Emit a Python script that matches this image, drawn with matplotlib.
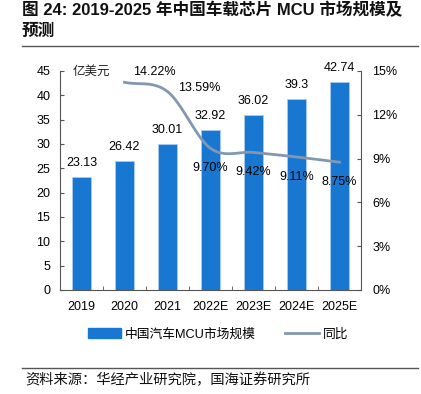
import matplotlib

matplotlib.use("Agg")
import matplotlib.pyplot as plt
import numpy as np
from matplotlib.lines import Line2D
from matplotlib.patches import Patch

plt.rcParams["font.family"] = ["Liberation Sans", "Noto Sans CJK SC", "DejaVu Sans"]

years = ["2019", "2020", "2021", "2022E", "2023E", "2024E", "2025E"]
market = [23.13, 26.42, 30.01, 32.92, 36.02, 39.3, 42.74]
market_labels = ["23.13", "26.42", "30.01", "32.92", "36.02", "39.3", "42.74"]
yoy_years = ["2020", "2021", "2022E", "2023E", "2024E", "2025E"]
yoy = [14.22, 13.59, 9.70, 9.42, 9.11, 8.75]

BAR = "#1877d1"
LINE = "#8497b0"


def smooth(xs, ys, n=30):
    # cubic Hermite curve through the points, for drawing only
    xs = np.asarray(xs, float)
    ys = np.asarray(ys, float)
    m = np.gradient(ys, xs)
    px, py = [], []
    for i in range(len(xs) - 1):
        h = xs[i + 1] - xs[i]
        t = np.linspace(0, 1, n)
        h00 = 2 * t**3 - 3 * t**2 + 1
        h10 = t**3 - 2 * t**2 + t
        h01 = -2 * t**3 + 3 * t**2
        h11 = t**3 - t**2
        px.extend(xs[i] + t * h)
        py.extend(h00 * ys[i] + h10 * h * m[i] + h01 * ys[i + 1] + h11 * h * m[i + 1])
    return px, py


fig = plt.figure(figsize=(4.21, 3.94), dpi=100)
ax = fig.add_axes([0.1425, 0.264, 0.715, 0.556])
ax2 = ax.twinx()

x = np.arange(len(years))
ax.bar(x, market, width=0.46, color=BAR, edgecolor="#a9cdf0", linewidth=0.6, zorder=2)
for xi, v, lab in zip(x, market, market_labels):
    ax.text(xi, v + 2.9, lab, ha="center", va="center", fontsize=9)

ax.set_xlim(-0.5, len(years) - 0.5)
ax.set_ylim(0, 45)
ax.set_yticks(np.arange(0, 46, 5))
ax.set_xticks(x)
ax.set_xticklabels(years, fontsize=9)
ax.set_xticks(np.arange(0.5, len(years) - 0.5, 1), minor=True)
ax.tick_params(axis="x", which="major", length=0, pad=8)
ax.tick_params(axis="x", which="minor", length=3, direction="in", color="#555555")
ax.tick_params(axis="y", labelsize=9, length=3, direction="in", color="#555555", pad=7)
for s in ["top", "right"]:
    ax.spines[s].set_visible(False)
ax.spines["left"].set_color("#555555")
ax.spines["bottom"].set_color("#555555")

yx = [years.index(y) for y in yoy_years]
sx, sy = smooth(yx, yoy)
ax2.plot(sx, sy, color=LINE, lw=2, zorder=3)
ax2.set_ylim(0, 15)
ax2.set_yticks(np.arange(0, 16, 3))
ax2.set_yticklabels([f"{v}%" for v in range(0, 16, 3)])
ax2.tick_params(axis="y", labelsize=9, length=3, direction="in", color="#555555", pad=8)
for s in ["top", "left", "bottom"]:
    ax2.spines[s].set_visible(False)
ax2.spines["right"].set_color("#555555")

offsets = [(0.7, 0.7), (0.73, 0.25), (0.0, -1.34), (0.0, -1.34), (0.0, -1.37), (0.0, -1.35)]
for xi, v, (dx, dy) in zip(yx, yoy, offsets):
    ax2.text(xi + dx, v + dy, f"{v:.2f}%", ha="center", va="center", fontsize=9)

ax.text(0.24, 44.9, "亿美元", ha="center", va="center", fontsize=9, color="#222222")

handles = [Patch(facecolor=BAR, edgecolor=BAR), Line2D([0], [0], color=LINE, lw=2)]
fig.legend(handles, ["中国汽车MCU市场规模", "同比"], loc="center", bbox_to_anchor=(0.518, 0.152),
           ncol=2, frameon=False, fontsize=9.2, handlelength=2.6, handleheight=0.9,
           columnspacing=2.3, handletextpad=0.3)

fig.text(0.052, 0.974, "图 24: 2019-2025 年中国车载芯片 MCU 市场规模及", fontsize=12,
         fontweight="bold", va="center", ha="left", color="#111111")
fig.text(0.052, 0.92, "预测", fontsize=12, fontweight="bold", va="center", ha="left",
         color="#111111")
fig.add_artist(Line2D([0.052, 0.993], [0.883, 0.883], color="#555555", lw=1))
fig.add_artist(Line2D([0.052, 0.993], [0.066, 0.066], color="#555555", lw=1))
fig.text(0.06, 0.035, "资料来源：华经产业研究院，国海证券研究所", fontsize=10.3, va="center",
         ha="left", color="#111111")

fig.savefig("out.png", dpi=100, facecolor="white")
